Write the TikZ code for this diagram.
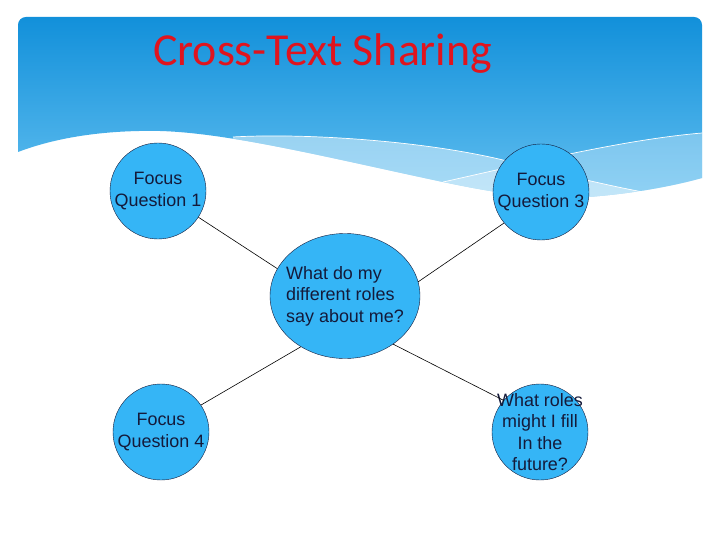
\documentclass[tikz,border=0pt]{standalone}
\usepackage{fontspec}
\setmainfont{Liberation Sans}
\newfontfamily\titlefont{Carlito}
\usetikzlibrary{shapes.geometric}
\definecolor{bandtop}{HTML}{1290DA}
\definecolor{bandbot}{HTML}{62BFF0}
\definecolor{bubble}{HTML}{35B5F6}
\definecolor{rim}{HTML}{141A3A}
\definecolor{titlered}{HTML}{E0141E}
\tikzset{
	focus/.style  = {draw=rim, fill=bubble, circle, minimum size=96bp, inner sep=0pt, align=center, text=rim, font=\fontsize{18}{21.5}\selectfont},
	hub/.style    = {draw=rim, fill=bubble, ellipse, minimum width=150bp, minimum height=125bp, inner sep=0pt, inner xsep=-6bp, align=left, text=rim, font=\fontsize{18}{21.5}\selectfont},
	title/.style  = {text=titlered, anchor=base west, inner sep=0pt, font=\titlefont\fontsize{46}{52}\selectfont},
	link/.style   = {draw=black, line width=0.6bp},
	waveline/.style = {draw=white, line width=0.7bp},
}

\begin{document}
\begin{tikzpicture}[x=1bp, y=-1bp]
	\useasboundingbox (0,0) rectangle (720,540);
	\fill[white] (0,0) rectangle (720,540);
	
	% Draw the header band
	\def\bandpath{(18,152) [rounded corners=8] -- (18,17) -- (702,17) [sharp corners] -- (702,178)
		.. controls (670,187) and (620,196) .. (570,198)
		.. controls (540,199) and (500,194) .. (443,182)
		.. controls (330,158) and (230,133) .. (160,131)
		.. controls (110,130) and (60,136) .. (18,152) -- cycle}
	\shade[top color=bandtop, bottom color=bandbot] \bandpath;
	\begin{scope}
		\clip \bandpath;
		\fill[white, opacity=0.45] (233,137) .. controls (300,133) and (420,140) .. (503,160)
			.. controls (560,174) and (610,186) .. (643,192) -- (643,240) -- (233,240) -- cycle;
		\fill[white, opacity=0.3] (443,182) .. controls (520,165) and (620,140) .. (702,133)
			-- (702,240) -- (443,240) -- cycle;
	\end{scope}
	\draw[waveline] (233,137) .. controls (300,133) and (420,140) .. (503,160)
		.. controls (560,174) and (610,186) .. (643,192);
	\draw[waveline] (443,182) .. controls (520,165) and (620,140) .. (702,133);
	
	% Draw the title
	\node[title] (title) at (153,66) {Cross-Text Sharing};
	
	% Draw the question nodes
	\draw
	node[hub  ] (hub)     at (345,296) {What do my\\different roles\\say about me?}
	node[focus] (fqone)   at (158,191) {Focus\\Question 1}
	node[focus] (fqthree) at (541,192) {Focus\\Question 3}
	node[focus] (fqfour)  at (161,432) {Focus\\Question 4}
	node[focus, inner sep=-12bp] (fqfive) at (540,432) {What roles\\might I fill\\In the\\future?};
	
	% Connect everything together
	\draw[link] (fqone.-33)   -- (hub.158);
	\draw[link] (fqthree.220) -- (hub.11);
	\draw[link] (hub.229)     -- (fqfour.34);
	\draw[link] (hub.-45)     -- (fqfive.139);
	
\end{tikzpicture}
\end{document}
